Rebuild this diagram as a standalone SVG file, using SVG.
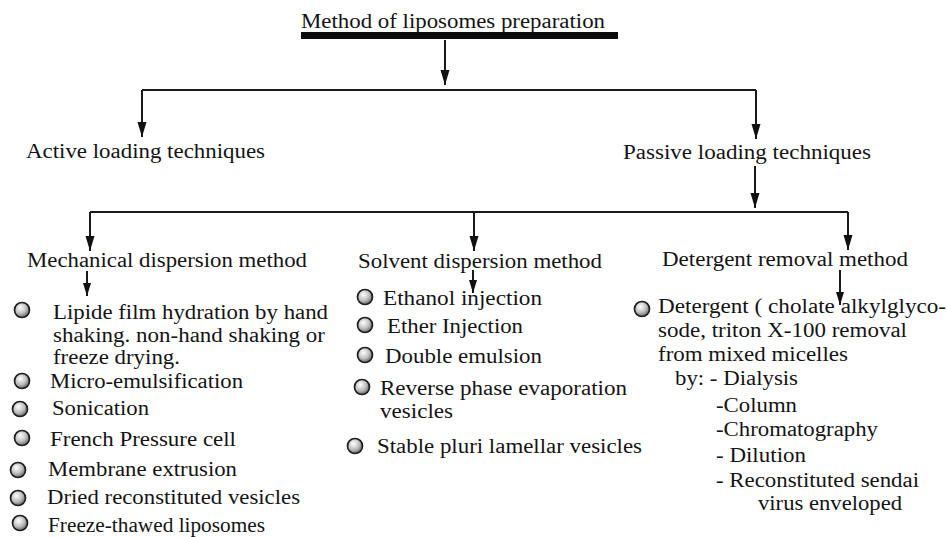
<svg xmlns="http://www.w3.org/2000/svg" width="947" height="537" viewBox="0 0 947 537" font-family="Liberation Serif, serif">
<defs>
<style>
text{font-family:"Liberation Serif",serif;font-size:20px;fill:#141414}
.ln{stroke:#1a1a1a;stroke-width:2;fill:none}
.arr{marker-end:url(#ah)}
.sarr{marker-end:url(#ahs)}
.bul{fill:url(#bg);stroke:#1e1e1e;stroke-width:1.7}
</style>
<radialGradient id="bg" cx="0.4" cy="0.35" r="0.65">
<stop offset="0" stop-color="#ffffff"/>
<stop offset="0.6" stop-color="#bdbdbd"/>
<stop offset="1" stop-color="#6a6a6a"/>
</radialGradient>
<marker id="ah" markerUnits="userSpaceOnUse" markerWidth="16" markerHeight="10" refX="15" refY="5" orient="auto">
<path d="M0,0.5 L15,5 L0,9.5 Z" fill="#111"/>
</marker>
<marker id="ahs" markerUnits="userSpaceOnUse" markerWidth="14" markerHeight="9" refX="13" refY="4.5" orient="auto">
<path d="M0,0.5 L13,4.5 L0,8.5 Z" fill="#111"/>
</marker>
</defs>
<rect width="947" height="537" fill="#ffffff"/>

<g id="connectors">
<path class="ln arr" d="M445,40 V85"/>
<path class="ln" d="M142,90 H756"/>
<path class="ln arr" d="M142,90 V137"/>
<path class="ln arr" d="M756,90 V139"/>
<path class="ln arr" d="M755,166 V208"/>
<path class="ln" d="M90,212 H848"/>
<path class="ln arr" d="M90,212 V251"/>
<path class="ln arr" d="M474,212 V251"/>
<path class="ln arr" d="M848,212 V250"/>
<path class="ln sarr" d="M87,271 V296"/>
<path class="ln sarr" d="M473,270 V293"/>
<path class="ln sarr" d="M840,270 V305"/>
</g>

<g id="root">
<text x="301" y="28" textLength="304" lengthAdjust="spacingAndGlyphs">Method of liposomes preparation</text>
<rect x="301" y="32" width="317" height="7" fill="#0a0a0a"/>
</g>

<g id="active">
<text x="26" y="158" textLength="239" lengthAdjust="spacingAndGlyphs">Active loading techniques</text>
</g>

<g id="passive">
<text x="623" y="159" textLength="248" lengthAdjust="spacingAndGlyphs">Passive loading techniques</text>
</g>

<g id="mechanical">
<text x="27" y="267" textLength="280" lengthAdjust="spacingAndGlyphs">Mechanical dispersion method</text>
<circle class="bul" cx="22" cy="310" r="7.5"/>
<text x="53" y="319" textLength="275" lengthAdjust="spacingAndGlyphs">Lipide film hydration by hand</text>
<text x="53" y="342" textLength="272" lengthAdjust="spacingAndGlyphs">shaking. non-hand shaking or</text>
<text x="53" y="364" textLength="127" lengthAdjust="spacingAndGlyphs">freeze drying.</text>
<circle class="bul" cx="22" cy="381" r="7.5"/>
<text x="50" y="388" textLength="193" lengthAdjust="spacingAndGlyphs">Micro-emulsification</text>
<circle class="bul" cx="20" cy="409" r="7.5"/>
<text x="52" y="415" textLength="97" lengthAdjust="spacingAndGlyphs">Sonication</text>
<circle class="bul" cx="22" cy="438" r="7.5"/>
<text x="50" y="446" textLength="186" lengthAdjust="spacingAndGlyphs">French Pressure cell</text>
<circle class="bul" cx="18" cy="470" r="7.5"/>
<text x="48" y="476" textLength="189" lengthAdjust="spacingAndGlyphs">Membrane extrusion</text>
<circle class="bul" cx="18" cy="498" r="7.5"/>
<text x="47" y="504" textLength="253" lengthAdjust="spacingAndGlyphs">Dried reconstituted vesicles</text>
<circle class="bul" cx="20" cy="523" r="7.5"/>
<text x="48" y="532" textLength="217" lengthAdjust="spacingAndGlyphs">Freeze-thawed liposomes</text>
</g>

<g id="solvent">
<text x="358" y="268" textLength="244" lengthAdjust="spacingAndGlyphs">Solvent dispersion method</text>
<circle class="bul" cx="365" cy="297" r="7.5"/>
<text x="383" y="305" textLength="159" lengthAdjust="spacingAndGlyphs">Ethanol injection</text>
<circle class="bul" cx="365" cy="325" r="7.5"/>
<text x="387" y="333" textLength="136" lengthAdjust="spacingAndGlyphs">Ether Injection</text>
<circle class="bul" cx="365" cy="355" r="7.5"/>
<text x="385" y="363" textLength="157" lengthAdjust="spacingAndGlyphs">Double emulsion</text>
<circle class="bul" cx="362" cy="387" r="7.5"/>
<text x="380" y="395" textLength="247" lengthAdjust="spacingAndGlyphs">Reverse phase evaporation</text>
<text x="380" y="418" textLength="73" lengthAdjust="spacingAndGlyphs">vesicles</text>
<circle class="bul" cx="355" cy="446" r="7.5"/>
<text x="377" y="453" textLength="265" lengthAdjust="spacingAndGlyphs">Stable pluri lamellar vesicles</text>
</g>

<g id="detergent">
<text x="662" y="266" textLength="246" lengthAdjust="spacingAndGlyphs">Detergent removal method</text>
<circle class="bul" cx="642" cy="309" r="7.5"/>
<text x="658" y="313" textLength="288" lengthAdjust="spacingAndGlyphs">Detergent ( cholate alkylglyco-</text>
<text x="658" y="337" textLength="249" lengthAdjust="spacingAndGlyphs">sode, triton X-100 removal</text>
<text x="658" y="361" textLength="190" lengthAdjust="spacingAndGlyphs">from mixed micelles</text>
<text x="675" y="385" textLength="123" lengthAdjust="spacingAndGlyphs">by: - Dialysis</text>
<text x="716" y="412" textLength="81" lengthAdjust="spacingAndGlyphs">-Column</text>
<text x="716" y="436" textLength="162" lengthAdjust="spacingAndGlyphs">-Chromatography</text>
<text x="716" y="462" textLength="90" lengthAdjust="spacingAndGlyphs">- Dilution</text>
<text x="716" y="487" textLength="203" lengthAdjust="spacingAndGlyphs">- Reconstituted sendai</text>
<text x="758" y="510" textLength="144" lengthAdjust="spacingAndGlyphs">virus enveloped</text>
</g>
</svg>
